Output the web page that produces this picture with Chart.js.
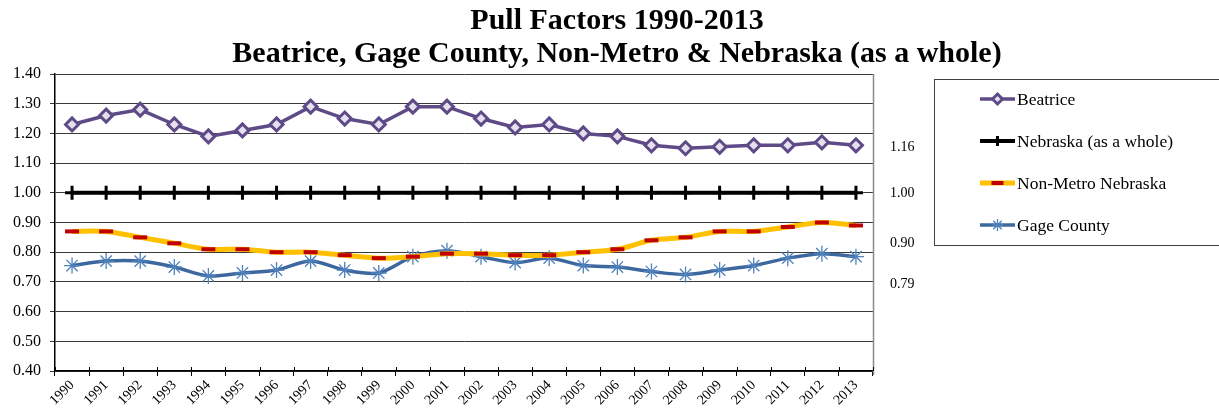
<!DOCTYPE html>
<html><head><meta charset="utf-8">
<script src="https://cdn.jsdelivr.net/npm/chart.js@4.4.1/dist/chart.umd.min.js"></script>
<style>
html,body{margin:0;padding:0;background:#fff;}
#wrap{position:relative;width:1219px;height:413px;overflow:hidden;background:#fff;}
canvas{position:absolute;left:0;top:0;}
.t{position:absolute;left:0;width:1234px;text-align:center;font:bold 30px 'Liberation Serif','Times New Roman',serif;color:#000;white-space:nowrap;line-height:30px;}
</style></head><body>
<div id="wrap">
<canvas id="c" width="1219" height="413"></canvas>
<div class="t" id="t1" style="top:4px"></div>
<div class="t" id="t2" style="top:37px"></div>
</div>
<script>
const titleLines = ['Pull Factors 1990-2013', 'Beatrice, Gage County, Non-Metro & Nebraska (as a whole)'];
const years = ['1990','1991','1992','1993','1994','1995','1996','1997','1998','1999','2000','2001','2002','2003','2004','2005','2006','2007','2008','2009','2010','2011','2012','2013'];
const seriesNames = ['Beatrice','Nebraska (as a whole)','Non-Metro Nebraska','Gage County'];
const beatrice = [1.23,1.26,1.28,1.23,1.19,1.21,1.23,1.29,1.25,1.23,1.29,1.29,1.25,1.22,1.23,1.20,1.19,1.16,1.15,1.155,1.16,1.16,1.17,1.16];
const nebraska = [1.00,1.00,1.00,1.00,1.00,1.00,1.00,1.00,1.00,1.00,1.00,1.00,1.00,1.00,1.00,1.00,1.00,1.00,1.00,1.00,1.00,1.00,1.00,1.00];
const nonMetro = [0.87,0.87,0.85,0.83,0.81,0.81,0.80,0.80,0.79,0.78,0.785,0.795,0.795,0.79,0.79,0.80,0.81,0.84,0.85,0.87,0.87,0.885,0.90,0.89];
const gage = [0.755,0.77,0.77,0.75,0.72,0.73,0.74,0.77,0.74,0.73,0.785,0.805,0.785,0.765,0.78,0.755,0.75,0.735,0.725,0.74,0.755,0.78,0.795,0.785];
const endLabels = ['1.16','1.00','0.90','0.79'];
const yTicksMin = 0.4, yTicksMax = 1.4, yStep = 0.1;

document.getElementById('t1').textContent = titleLines[0];
document.getElementById('t2').textContent = titleLines[1];

const FAM = "'Liberation Serif','Times New Roman',serif";

function markerPath(ctx, style, r, x, y){
  ctx.beginPath();
  if(style==='rectRot'){ ctx.moveTo(x,y-r); ctx.lineTo(x+r,y); ctx.lineTo(x,y+r); ctx.lineTo(x-r,y); ctx.closePath(); ctx.fill(); ctx.stroke(); }
  else if(style==='cross'){ ctx.moveTo(x,y-r); ctx.lineTo(x,y+r); ctx.moveTo(x-r,y); ctx.lineTo(x+r,y); ctx.stroke(); }
  else if(style==='line'){ ctx.moveTo(x-r,y); ctx.lineTo(x+r,y); ctx.stroke(); }
  else if(style==='star'){ ctx.moveTo(x,y-r); ctx.lineTo(x,y+r); ctx.moveTo(x-r,y); ctx.lineTo(x+r,y);
    const d=r*Math.SQRT1_2; ctx.moveTo(x-d,y-d); ctx.lineTo(x+d,y+d); ctx.moveTo(x-d,y+d); ctx.lineTo(x+d,y-d); ctx.stroke(); }
}

const decoPlugin = {
  id:'deco',
  afterDraw(chart){
    const ctx = chart.ctx, a = chart.chartArea;
    ctx.save();
    ctx.strokeStyle = '#8a8a8a'; ctx.lineWidth = 1.5;
    ctx.beginPath(); ctx.moveTo(Math.round(a.right)+0.5, a.top); ctx.lineTo(Math.round(a.right)+0.5, a.bottom+4); ctx.stroke();
    ctx.strokeStyle = '#000'; ctx.lineWidth = 1;
    for(let i=0;i<=years.length;i++){
      const px = Math.round(a.left + (a.right-a.left)*i/years.length)+0.5;
      ctx.beginPath(); ctx.moveTo(px, a.bottom-4); ctx.lineTo(px, a.bottom); ctx.stroke();
    }
    ctx.fillStyle = '#000'; ctx.font = '14px ' + FAM; ctx.textAlign='left'; ctx.textBaseline='middle';
    const ely = [147,193,243,284];
    endLabels.forEach((t,i)=>ctx.fillText(t, 890, ely[i]));
    ctx.strokeStyle = '#404040'; ctx.lineWidth = 1;
    ctx.strokeRect(934.5, 79.5, 300, 166);
    const ly = [99,141,183,225];
    chart.data.datasets.forEach((ds,i)=>{
      const y = ly[i];
      ctx.strokeStyle = ds.borderColor; ctx.lineWidth = ds.borderWidth; ctx.lineCap='butt';
      ctx.beginPath(); ctx.moveTo(980,y); ctx.lineTo(1015,y); ctx.stroke();
      ctx.strokeStyle = ds.pointBorderColor; ctx.fillStyle = ds.pointBackgroundColor || ds.pointBorderColor;
      ctx.lineWidth = ds.pointBorderWidth;
      markerPath(ctx, ds.pointStyle, ds.legendRadius, 997.5, y);
      ctx.fillStyle = '#000'; ctx.font = '17.5px ' + FAM; ctx.textAlign='left'; ctx.textBaseline='middle';
      ctx.fillText(ds.label, 1017, y+1);
    });
    ctx.restore();
  }
};

new Chart(document.getElementById('c'), {
  type:'line',
  data:{
    labels: years,
    datasets:[
      {label:seriesNames[0], data:beatrice, borderColor:'#5E4A86', borderWidth:3.5, tension:0,
       pointStyle:'rectRot', pointRadius:6.5, pointBorderWidth:3, pointBackgroundColor:'#E6E0EE', pointBorderColor:'#5E4A86', legendRadius:5},
      {label:seriesNames[1], data:nebraska, borderColor:'#000000', borderWidth:4, tension:0,
       pointStyle:'cross', pointRadius:7, pointBorderWidth:3, pointBorderColor:'#000000', pointBackgroundColor:'#000000', legendRadius:5},
      {label:seriesNames[2], data:nonMetro, borderColor:'#FFC000', borderWidth:5, tension:0.3,
       pointStyle:'line', pointRadius:7, pointBorderWidth:4, pointBorderColor:'#C00000', pointBackgroundColor:'#C00000', legendRadius:6},
      {label:seriesNames[3], data:gage, borderColor:'#3D689F', borderWidth:3.5, tension:0.3,
       pointStyle:'star', pointRadius:8, pointBorderWidth:1.3, pointBorderColor:'#4F81BD', pointBackgroundColor:'#4F81BD', legendRadius:6}
    ]
  },
  options:{
    responsive:false, animation:false,
    layout:{padding:{top:74,right:346,bottom:0,left:0}},
    plugins:{legend:{display:false}, title:{display:false}, tooltip:{enabled:false}},
    scales:{
      x:{
        offset:true,
        grid:{offset:true, drawOnChartArea:false, tickLength:5, color:'#000', lineWidth:1},
        border:{color:'#000', width:1.5},
        ticks:{minRotation:45, maxRotation:45, autoSkip:false, color:'#000', font:{family:FAM, size:14}, padding:1},
        afterFit(s){ s.height = 42; }
      },
      y:{
        min:yTicksMin, max:yTicksMax,
        ticks:{stepSize:yStep, color:'#000', font:{family:FAM, size:16}, padding:9, callback:v=>Number(v).toFixed(2)},
        grid:{color:'#3a3a3a', lineWidth:1, tickLength:5},
        border:{color:'#000', width:1.5},
        afterFit(s){ s.width = 55; }
      }
    }
  },
  plugins:[decoPlugin]
});
</script>
</body></html>
